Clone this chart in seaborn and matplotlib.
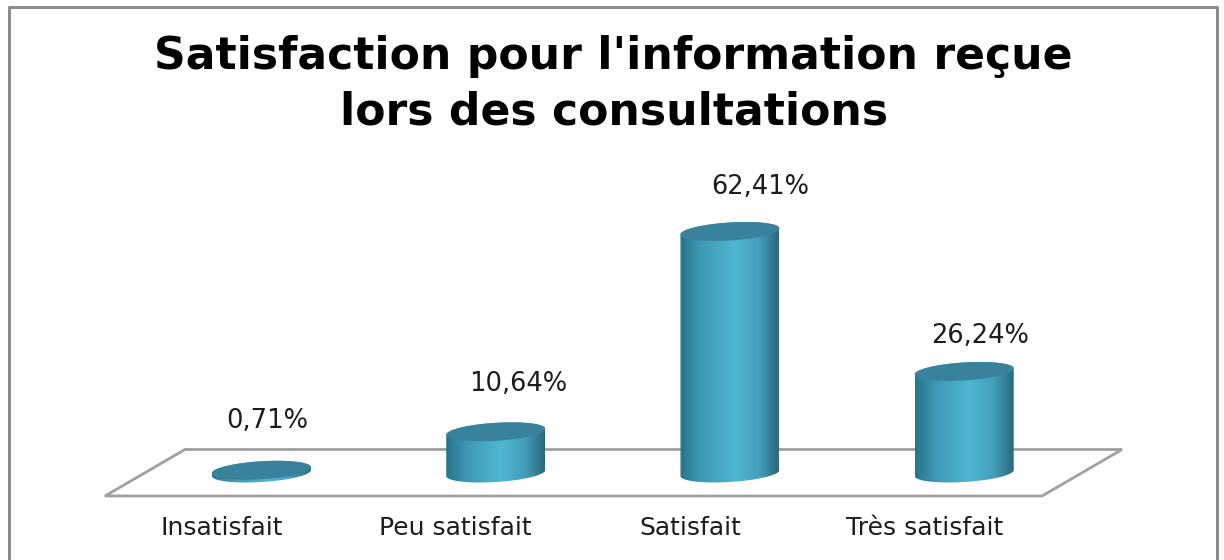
# Import libraries
import numpy as np
import pandas as pd
import seaborn as sns
import matplotlib.pyplot as plt
from matplotlib.colors import LinearSegmentedColormap
from matplotlib.patches import Polygon
from matplotlib.lines import Line2D
from matplotlib.transforms import ScaledTranslation

categories = ['Insatisfait', 'Peu satisfait', 'Satisfait', 'Très satisfait']
values = [0.71, 10.64, 62.41, 26.24]
value_labels = ['0,71%', '10,64%', '62,41%', '26,24%']
title_lines = ["Satisfaction pour l'information reçue", 'lors des consultations']

W, H = 1224, 560
# label offsets from the top of each cylinder, in pixels
label_dx = [6, 22, 30, 16]
label_dy = [49, 48, 44, 35]

sns.set_theme(style='white')
plt.rcParams['font.family'] = ['DejaVu Sans']

fig = plt.figure(figsize=(W / 100, H / 100), dpi=100, facecolor='white')

# axes placed so that 0 sits on the floor of the chart, with room below for the base ellipses
px_per_pct = 3.87
left, right, floor_y = 144.35, 1081.35, 473
ymin, ymax = -8, 70
bottom_px = floor_y - ymin * px_per_pct
ax = fig.add_axes([left / W, (H - bottom_px) / H, (right - left) / W, (ymax - ymin) * px_per_pct / H])
ax.patch.set_alpha(0)

df = pd.DataFrame({'categorie': categories, 'valeur': values})
sns.barplot(data=df, x='categorie', y='valeur', width=0.4225, ax=ax, color='#3f9ab6')
ax.set_xlim(-0.5, 3.5)
ax.set_ylim(ymin, ymax)
ax.set_xlabel('')
ax.set_ylabel('')
ax.set_yticks([])
ax.tick_params(axis='x', length=0, pad=9, labelsize=18, colors='#1c1c1c')
sns.despine(ax=ax, left=True, bottom=True)

# tick labels sit left of the cylinders, as the floor is drawn in perspective
shift = ScaledTranslation(-40 / 100, 0, fig.dpi_scale_trans)
for tick in ax.get_xticklabels():
    tick.set_transform(tick.get_transform() + shift)

# frame, open at the bottom
frame = Line2D([9 / W, 9 / W, 1217 / W, 1217 / W], [0, 1 - 7 / H, 1 - 7 / H, 0],
               transform=fig.transFigure, color='#8c8c8c', lw=2.2)
fig.add_artist(frame)

# floor of the 3D plot
floor_px = [(105, 496), (185, 449.5), (1122, 449.5), (1042, 496)]
floor = Polygon([(x / W, 1 - y / H) for x, y in floor_px], closed=True, fill=False,
                edgecolor='#a0a0a0', lw=2, transform=fig.transFigure, zorder=0)
fig.add_artist(floor)
ax.set_zorder(1)

shade = LinearSegmentedColormap.from_list('cyl', [
    (0.0, '#28748b'), (0.2, '#3d97b3'), (0.55, '#4fb6d1'),
    (0.8, '#439eba'), (0.97, '#2c7085'), (1.0, '#2a6a7e')])
gradient = np.linspace(0, 1, 256).reshape(1, -1)

tilt = 3 / px_per_pct   # ellipses lean up to the right
minor = 9 / px_per_pct
t = np.linspace(0, 2 * np.pi, 181)

for bar, dx, dy, label, val in zip(ax.patches, label_dx, label_dy, value_labels, values):
    x0, w = bar.get_x(), bar.get_width()
    cx, a = x0 + w / 2, w / 2
    bar.set_visible(False)

    ex = cx + a * np.cos(t)
    top_y = val + minor * np.sin(t) + tilt * np.cos(t)

    # body: lower half of the base ellipse, closed over the top ellipse
    lower = t[(t >= np.pi) & (t <= 2 * np.pi)]
    upper = t[t <= np.pi]
    body_x = np.r_[cx + a * np.cos(lower), cx + a * np.cos(upper)]
    body_y = np.r_[minor * np.sin(lower) + tilt * np.cos(lower),
                   val + minor * np.sin(upper) + tilt * np.cos(upper)]
    body = Polygon(np.c_[body_x, body_y], closed=True, transform=ax.transData,
                   facecolor='none', edgecolor='none')
    ax.add_patch(body)
    img = ax.imshow(gradient, extent=[x0, x0 + w, -5, val + 5], aspect='auto',
                    cmap=shade, zorder=2, interpolation='bilinear')
    img.set_clip_path(body)

    ax.fill(ex, top_y, color='#39829b', lw=0, zorder=3)

    ax.annotate(label, (cx, val), xytext=(dx * 0.72, dy * 0.72), textcoords='offset points',
                ha='center', va='center', fontsize=18.5, color='#1c1c1c', annotation_clip=False)

ax.set_xlim(-0.5, 3.5)
ax.set_ylim(ymin, ymax)

fig.text(613.5 / W, 1 - 57 / H, title_lines[0], ha='center', va='center',
         fontsize=31.8, fontweight='bold', color='black')
fig.text(614 / W, 1 - 112 / H, title_lines[1], ha='center', va='center',
         fontsize=31.8, fontweight='bold', color='black')

fig.savefig('out.png', dpi=100, facecolor='white')
